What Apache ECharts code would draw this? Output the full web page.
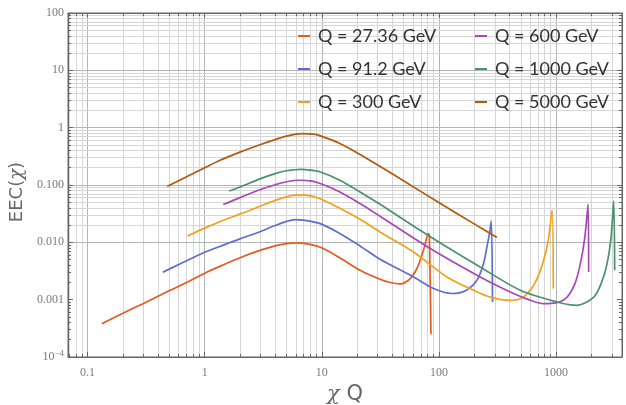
<!DOCTYPE html>
<html><head><meta charset="utf-8">
<script src="https://cdn.jsdelivr.net/npm/echarts@6/dist/echarts.min.js"></script>
<style>html,body{margin:0;padding:0;background:#fff}#c{width:626px;height:405px}</style>
</head><body><div id="c"></div>
<script>
// ---- data ----
const seriesNames = ['Q = 27.36 GeV','Q = 91.2 GeV','Q = 300 GeV','Q = 600 GeV','Q = 1000 GeV','Q = 5000 GeV'];
const seriesColors = ['#e35b1f','#5e6ed0','#f5a01a','#a848b8','#4b9170','#b4580c'];

const x27 = [0.132,0.2,0.3,0.5,0.7,1,1.5,2,3,4,5,5.9,7,9.7,14,21.2,31.4,38.4,46.7,56.9,64.9,73.8,81.5,83,85.5];
const y27 = [3.8e-4,5.8e-4,8.6e-4,0.00144,0.0020,0.0029,0.0042,0.0054,0.0073,0.0087,0.0095,0.00975,0.0096,0.0082,0.0055,0.00326,0.00227,0.00199,0.00188,0.00233,0.0035,0.0073,0.0142,0.012,2.5e-4];

const x91 = [0.438,0.6,1,1.5,2,3,4,5,5.9,7,9.7,14,21.2,31.4,60.7,90,129,170,211,240,257,270,280,287];
const y91 = [0.0030,0.0041,0.0067,0.0092,0.0115,0.0155,0.0197,0.0232,0.0249,0.0244,0.0212,0.0146,0.00865,0.00506,0.00249,0.00156,0.00128,0.00145,0.00218,0.0042,0.0083,0.014,0.0236,0.00091];

const x300 = [0.716,1,1.5,2,3,4,5,6.1,7.5,9.7,14,21.2,31.4,60.7,117,198,275,407,500,603,700,784,860,925,948];
const y300 = [0.0129,0.0177,0.025,0.031,0.043,0.054,0.062,0.067,0.066,0.0577,0.040,0.0252,0.0152,0.0068,0.00249,0.00146,0.00111,0.000975,0.00105,0.00146,0.0025,0.00486,0.011,0.0363,0.00156];

const x600 = [1.44,2,3,4,5,6.5,8,9.7,14,21.2,31.4,84.3,225,434,600,784,1000,1242,1450,1614,1760,1878,1900];
const y600 = [0.0456,0.0603,0.0834,0.101,0.114,0.121,0.118,0.106,0.077,0.0474,0.0285,0.00778,0.00249,0.00128,0.00098,0.000855,0.00088,0.00111,0.0019,0.00426,0.012,0.0461,0.00304];

const x1000 = [1.62,2,3,4,5,6.6,8,9.7,14,21.2,31.4,60,117,225,495,1020,1513,2100,2450,2730,2950,3107,3170];
const y1000 = [0.0787,0.0925,0.129,0.158,0.177,0.188,0.182,0.169,0.124,0.0756,0.0461,0.0195,0.0083,0.00372,0.00146,0.000912,0.000798,0.00111,0.0020,0.00426,0.012,0.0526,0.00326];

const x5000 = [0.479,0.7,1,1.35,2,3,4,5,6,6.75,8.5,9.7,14,21.2,46.7,103,200,313];
const y5000 = [0.095,0.139,0.20,0.27,0.375,0.51,0.62,0.71,0.77,0.79,0.77,0.72,0.54,0.34,0.129,0.0474,0.021,0.0121];

const xTickValues = [0.1,1,10,100,1000];
const xTickLabels = ['0.1','1','10','100','1000'];
const yTickValues = [1e-4,1e-3,1e-2,0.1,1,10,100];
const yTickLabels = ['{b|10}{s|−4}','0.001','0.010','0.100','1','10','100'];

const xMin = 0.068, xMax = 3660, yMin = 1e-4, yMax = 100;

// ---- build ----
const allX = [x27,x91,x300,x600,x1000,x5000];
const allY = [y27,y91,y300,y600,y1000,y5000];

function lookup(v, vals, labels){
  for (let i=0;i<vals.length;i++){ if (Math.abs(Math.log10(v)-Math.log10(vals[i]))<1e-6) return labels[i]; }
  return '';
}
function isDecade(v){ return Math.abs(Math.log10(v)-Math.round(Math.log10(v)))<1e-6; }

// gridline values k*10^n
const vGrid = [], hGrid = [];
for (let n=-2;n<=4;n++) for (let k=1;k<=9;k++){ const v=k*Math.pow(10,n); if (v>xMin*1.001 && v<xMax*0.999) vGrid.push(v); }
for (let n=-4;n<=2;n++) for (let k=1;k<=9;k++){ const v=k*Math.pow(10,n); if (v>yMin*1.001 && v<yMax*0.999) hGrid.push(v); }
const gridLineData = [];
vGrid.forEach(v=>gridLineData.push({xAxis:v, lineStyle:{color: isDecade(v)?'#b4b4b4':'#d6d6d6'}}));
hGrid.forEach(v=>gridLineData.push({yAxis:v, lineStyle:{color: isDecade(v)?'#b4b4b4':'#d6d6d6'}}));

const series = [{
  type:'line', data:[], z:0, silent:true,
  markLine:{z:0, silent:true, symbol:['none','none'], label:{show:false}, animation:false,
    lineStyle:{type:'solid', width:1, color:'#d6d6d6'}, emphasis:{disabled:true}, data:gridLineData}
}];
seriesNames.forEach((name,i)=>{
  series.push({
    name, type:'line', z:5, showSymbol:false, symbol:'none',
    smooth:0.3,
    lineStyle:{color:seriesColors[i], width:1.7, join:'round'}, itemStyle:{color:seriesColors[i]},
    data: allX[i].map((x,j)=>[x, allY[i][j]])
  });
});

const legendCommon = {
  orient:'vertical', icon:'rect', itemWidth:12, itemHeight:2, itemGap:13,
  textStyle:{fontFamily:'Lato', fontSize:18, color:'#333', lineHeight:20, padding:[0,0,0,3]},
  selectedMode:false
};

const axisLabelFont = {fontFamily:'Liberation Serif', fontSize:12, color:'#7a7a7a'};
const minorT = {show:true, splitNumber:9, length:3, lineStyle:{color:'#666'}};

const option = {
  animation:false,
  backgroundColor:'#fff',
  grid:{left:68, right:4, top:13, bottom:48, show:true, borderColor:'#666', borderWidth:1,
        backgroundColor:'transparent', containLabel:false, outerBoundsMode:'none'},
  legend:[
    Object.assign({}, legendCommon, {data:seriesNames.slice(0,3), left:293, top:21}),
    Object.assign({}, legendCommon, {data:seriesNames.slice(3,6), left:470, top:21})
  ],
  xAxis:[{
    type:'log', logBase:10, min:xMin, max:xMax,
    name:'{i|χ} Q', nameLocation:'middle', nameGap:27,
    nameTextStyle:{fontFamily:'DejaVu Sans', fontSize:21, color:'#666',
      rich:{i:{fontFamily:'DejaVu Serif', fontStyle:'italic', fontSize:21, color:'#666'}}},
    axisLine:{show:true, lineStyle:{color:'#666'}},
    axisTick:{show:true, inside:true, length:5, lineStyle:{color:'#666'}},
    minorTick:minorT,
    splitLine:{show:false},
    axisLabel:Object.assign({margin:10, showMinLabel:false, showMaxLabel:false,
      formatter:v=>lookup(v,xTickValues,xTickLabels)}, axisLabelFont)
  },{
    type:'log', logBase:10, min:xMin, max:xMax, position:'top',
    axisLine:{show:true, lineStyle:{color:'#666'}},
    axisTick:{show:true, inside:true, length:5, lineStyle:{color:'#666'}},
    minorTick:minorT,
    splitLine:{show:false}, axisLabel:{show:false}
  }],
  yAxis:[{
    type:'log', logBase:10, min:yMin, max:yMax,
    name:'EEC({i|χ})', nameLocation:'middle', nameGap:27, nameRotate:90,
    nameTextStyle:{fontFamily:'DejaVu Sans', fontSize:18, color:'#666', padding:[0,14,0,0],
      rich:{i:{fontFamily:'DejaVu Serif', fontStyle:'italic', fontSize:18, color:'#666'}}},
    axisLine:{show:true, lineStyle:{color:'#666'}},
    axisTick:{show:true, inside:true, length:5, lineStyle:{color:'#666'}},
    minorTick:minorT,
    splitLine:{show:false},
    axisLabel:Object.assign({margin:4,
      formatter:v=>lookup(v,yTickValues,yTickLabels),
      rich:{b:{fontFamily:'Liberation Serif', fontSize:12, color:'#7a7a7a'},
            s:{fontFamily:'Liberation Serif', fontSize:9, color:'#7a7a7a', verticalAlign:'top', padding:[0,0,6,0]}}
    }, axisLabelFont)
  },{
    type:'log', logBase:10, min:yMin, max:yMax, position:'right',
    axisLine:{show:true, lineStyle:{color:'#666'}},
    axisTick:{show:true, inside:true, length:5, lineStyle:{color:'#666'}},
    minorTick:minorT,
    splitLine:{show:false}, axisLabel:{show:false}
  }],
  series
};

const chart = echarts.init(document.getElementById('c'), null, {renderer:'canvas'});
chart.setOption(option);
</script>
</body></html>
